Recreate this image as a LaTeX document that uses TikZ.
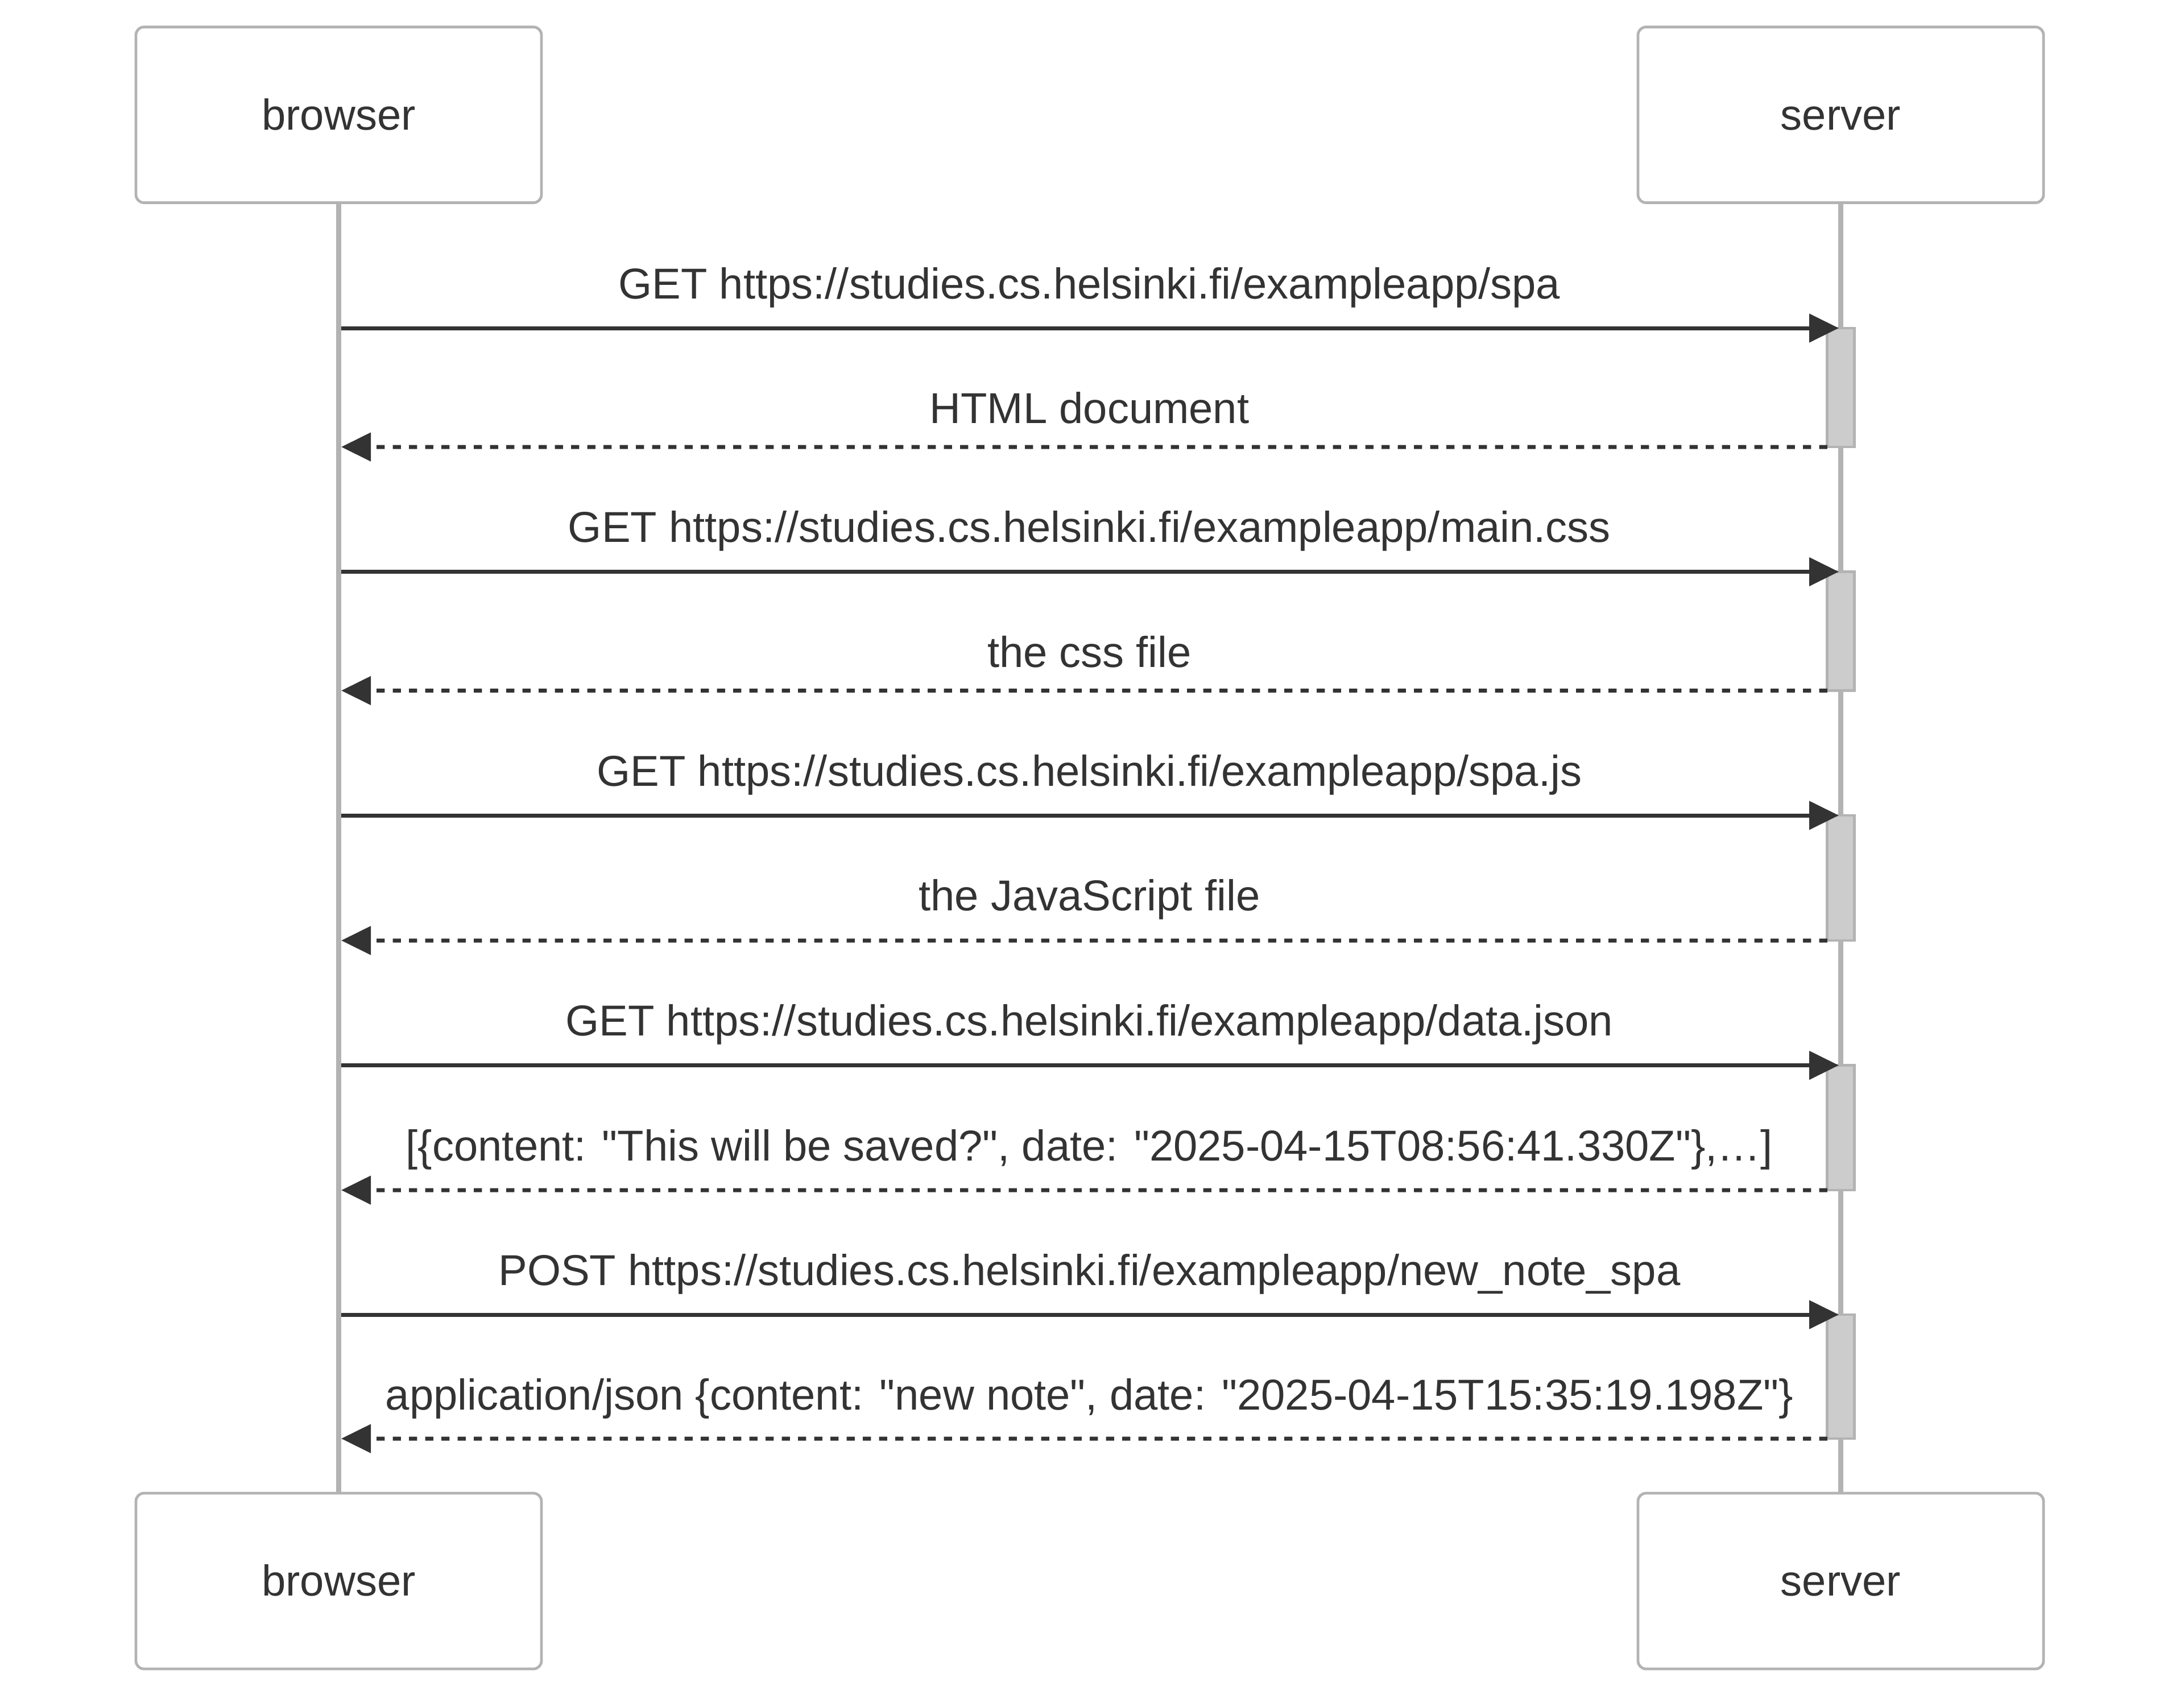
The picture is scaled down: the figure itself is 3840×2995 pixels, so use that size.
\documentclass[tikz,border=0pt]{standalone}
\usepackage{fontspec}
\setmainfont{Liberation Sans}[Ligatures=TeXOff]
\usetikzlibrary{arrows.meta}
\definecolor{ink}{HTML}{333333}
\definecolor{edgegray}{HTML}{B3B3B3}
\definecolor{actfill}{HTML}{CCCCCC}
\begin{document}
\begin{tikzpicture}[x=0.1pt,y=-0.1pt,
  every node/.style={font=\fontsize{7.6pt}{9pt}\selectfont, text=ink},
  actorbox/.style={draw=edgegray, line width=0.475pt, rounded corners=1.4pt, fill=white,
    minimum width=71.3pt, minimum height=30.9pt, inner sep=0pt, outer sep=0pt,
    text height=6pt, text depth=0.8pt},
  lifeline/.style={draw=edgegray, line width=0.93pt},
  actbox/.style={draw=edgegray, line width=0.475pt, fill=actfill, minimum width=4.75pt,
    inner sep=0pt, outer sep=0pt},
  reqarrow/.style={draw=ink, line width=0.7pt, -{Triangle[length=5.2pt,width=4.93pt]}},
  resarrow/.style={reqarrow, dash pattern=on 1.425pt off 1.425pt},
  msg/.style={anchor=base, inner sep=0pt}]
\useasboundingbox[fill=white] (0,0) rectangle (3840,2995);

% actors
\node[actorbox] (bTop) at (595.5,202) {browser};
\node[actorbox] (sTop) at (3236.5,202) {server};
\node[actorbox] (bBot) at (595.5,2780.5) {browser};
\node[actorbox] (sBot) at (3236.5,2780.5) {server};

% lifelines
\draw[lifeline] (bTop.south) -- (bBot.north);
\draw[lifeline] (sTop.south) -- (sBot.north);

% activations
\node[actbox, minimum height=20.9pt] (a1) at (3236.5,681.5) {};
\node[actbox, minimum height=20.9pt] (a2) at (3236.5,1110) {};
\node[actbox, minimum height=22pt] (a3) at (3236.5,1544) {};
\node[actbox, minimum height=21.95pt] (a4) at (3236.5,1983.25) {};
\node[actbox, minimum height=21.8pt] (a5) at (3236.5,2421) {};

% end points on lifelines
\coordinate (b1) at (600,577);    \coordinate (s1) at (3233,577);
\coordinate (b2) at (600,786);
\coordinate (b3) at (600,1005.5); \coordinate (s3) at (3233,1005.5);
\coordinate (b4) at (600,1214.5);
\coordinate (b5) at (600,1434);   \coordinate (s5) at (3233,1434);
\coordinate (b6) at (600,1654);
\coordinate (b7) at (600,1873.5); \coordinate (s7) at (3233,1873.5);
\coordinate (b8) at (600,2093);
\coordinate (b9) at (600,2312);   \coordinate (s9) at (3233,2312);
\coordinate (b10) at (600,2530);

% messages
\draw[reqarrow] (b1) -- (s1);
\draw[resarrow] (a1.south west) -- (b2);
\draw[reqarrow] (b3) -- (s3);
\draw[resarrow] (a2.south west) -- (b4);
\draw[reqarrow] (b5) -- (s5);
\draw[resarrow] (a3.south west) -- (b6);
\draw[reqarrow] (b7) -- (s7);
\draw[resarrow] (a4.south west) -- (b8);
\draw[reqarrow] (b9) -- (s9);
\draw[resarrow] (a5.south west) -- (b10);

% labels
\node[msg] (m1) at (1915.5,525) {GET https://studies.cs.helsinki.fi/exampleapp/spa};
\node[msg] (m2) at (1915.5,744.5) {HTML document};
\node[msg] (m3) at (1915.5,953.5) {GET https://studies.cs.helsinki.fi/exampleapp/main.css};
\node[msg] (m4) at (1915.5,1173) {the css file};
\node[msg] (m5) at (1915.5,1382) {GET https://studies.cs.helsinki.fi/exampleapp/spa.js};
\node[msg] (m6) at (1915.5,1601.5) {the JavaScript file};
\node[msg] (m7) at (1915.5,1821.5) {GET https://studies.cs.helsinki.fi/exampleapp/data.json};
\node[msg] (m8) at (1915.5,2041) {[\{content: "This will be saved?", date: "2025-04-15T08:56:41.330Z"\},…]};
\node[msg] (m9) at (1915.5,2260.5) {POST https://studies.cs.helsinki.fi/exampleapp/new\_note\_spa};
\node[msg] (m10) at (1915.5,2479.5) {application/json \{content: "new note", date: "2025-04-15T15:35:19.198Z"\}};
\end{tikzpicture}
\end{document}
